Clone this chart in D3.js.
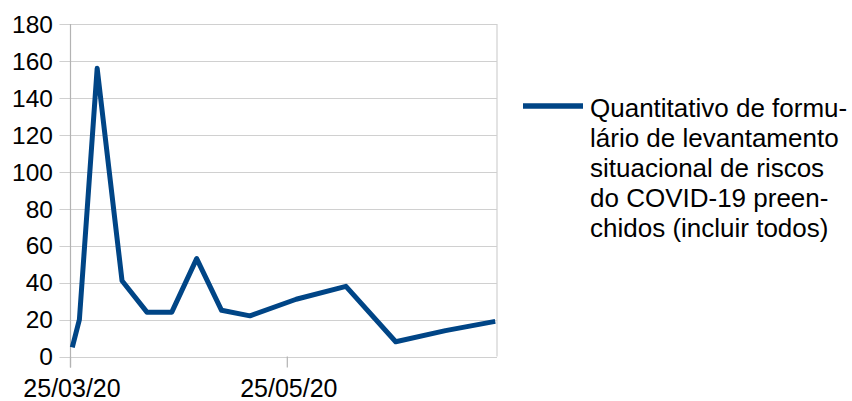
<!DOCTYPE html>
<html>
<head>
<meta charset="utf-8">
<script src="https://cdn.jsdelivr.net/npm/d3@7"></script>
<style>
  html, body { margin: 0; padding: 0; background: #fff; }
  text { font-family: "Liberation Sans", Arial, sans-serif; fill: #000; }
</style>
</head>
<body>
<svg id="chart" width="852" height="401"></svg>
<script>
const dates = ["2020-03-25","2020-03-27","2020-04-01","2020-04-08","2020-04-15","2020-04-22","2020-04-29","2020-05-06","2020-05-14","2020-05-27","2020-06-10","2020-06-24","2020-07-08","2020-07-22"];
const values = [5, 20, 156, 41, 24, 24, 53, 25, 22, 31, 38, 8, 14, 19];
const yTicks = [0, 20, 40, 60, 80, 100, 120, 140, 160, 180];
const xTickDates = ["2020-03-25", "2020-05-25"];
const xTickLabels = ["25/03/20", "25/05/20"];
const axisStart = "2020-03-25";
const axisEnd = "2020-07-23";
const seriesName = ["Quantitativo de formu-", "lário de levantamento", "situacional de riscos", "do COVID-19 preen-", "chidos (incluir todos)"];

(function () {
const parse = d3.utcParse("%Y-%m-%d");
const svg = d3.select("#chart");
const pLeft = 70.5, pRight = 497, pTop = 24, pBottom = 356.5;
const halfDay = 12 * 3600 * 1000;

const x = d3.scaleUtc().domain([parse(axisStart), parse(axisEnd)]).range([pLeft, pRight]);
const y = d3.scaleLinear().domain([0, 180]).range([pBottom, pTop]);

// horizontal grid lines (extending left as tick marks)
svg.append("g").selectAll("line").data(yTicks).join("line")
  .attr("x1", pLeft - 11).attr("x2", pRight)
  .attr("y1", d => Math.round(y(d)) + 0.5).attr("y2", d => Math.round(y(d)) + 0.5)
  .attr("stroke", "#d0d0d0").attr("stroke-width", 1.2);

// left axis line and right border
svg.append("line").attr("x1", pLeft).attr("x2", pLeft).attr("y1", pTop).attr("y2", pBottom + 11)
  .attr("stroke", "#b3b3b3").attr("stroke-width", 1.2);
svg.append("line").attr("x1", pRight).attr("x2", pRight).attr("y1", pTop).attr("y2", pBottom)
  .attr("stroke", "#d0d0d0").attr("stroke-width", 1.2);

// x tick marks
svg.append("g").selectAll("line").data(xTickDates).join("line")
  .attr("x1", d => x(parse(d))).attr("x2", d => x(parse(d)))
  .attr("y1", pBottom).attr("y2", pBottom + 11)
  .attr("stroke", "#b3b3b3").attr("stroke-width", 1.2);

// y labels
svg.append("g").selectAll("text").data(yTicks).join("text")
  .attr("x", 53).attr("y", d => y(d)).attr("dy", "0.36em")
  .attr("text-anchor", "end").attr("font-size", 24.5)
  .text(d => d);

// x labels
svg.append("g").selectAll("text").data(xTickDates).join("text")
  .attr("x", d => x(parse(d)) + 1.5).attr("y", 397)
  .attr("text-anchor", "middle").attr("font-size", 25)
  .text((d, i) => xTickLabels[i]);

// series line
const data = dates.map((d, i) => ({ date: parse(d), value: values[i] }));
const line = d3.line().x(d => x(new Date(d.date.getTime() + halfDay))).y(d => y(d.value));
svg.append("path").datum(data)
  .attr("d", line)
  .attr("fill", "none").attr("stroke", "#004586").attr("stroke-width", 5)
  .attr("stroke-linejoin", "round");

// legend
svg.append("line").attr("x1", 523).attr("x2", 583).attr("y1", 106).attr("y2", 106)
  .attr("stroke", "#004586").attr("stroke-width", 5.5);
svg.append("g").selectAll("text").data(seriesName).join("text")
  .attr("x", 590).attr("y", (d, i) => 117 + i * 29.9)
  .attr("font-size", 26)
  .text(d => d);
})();
</script>
</body>
</html>
